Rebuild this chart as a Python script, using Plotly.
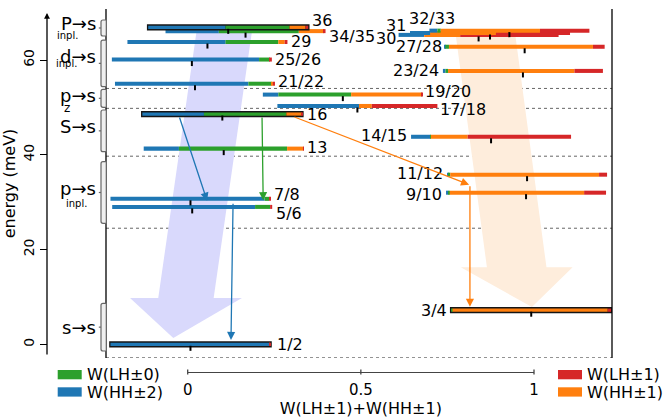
import plotly.graph_objects as go

# ---------------- data ----------------
states = ["1/2", "3/4", "5/6", "7/8", "9/10", "11/12", "13", "14/15", "16",
          "17/18", "19/20", "21/22", "23/24", "25/26", "27/28", "29", "30",
          "31", "32/33", "34/35", "36"]
energy = [0.0, 7.2, 29.0, 30.7, 32.0, 35.8, 41.3, 43.8, 48.6,
          50.3, 52.7, 55.0, 57.7, 60.1, 62.8, 63.8, 65.3,
          65.7, 66.2, 66.1, 66.9]
w_hh2 = [0.992, 0.000, 0.893, 0.963, 0.015, 0.006, 0.220, 0.122, 0.385,
         0.510, 0.097, 0.834, 0.016, 0.920, 0.004, 0.613, 0.160,
         0.127, 0.050, 0.333, 0.483]
w_lh0 = [0.000, 0.008, 0.094, 0.029, 0.008, 0.014, 0.676, 0.002, 0.515,
         0.000, 0.455, 0.145, 0.016, 0.068, 0.023, 0.330, 0.000,
         0.000, 0.021, 0.500, 0.400]
w_hh1 = [0.005, 0.970, 0.000, 0.000, 0.840, 0.930, 0.100, 0.230, 0.097,
         0.080, 0.442, 0.008, 0.790, 0.000, 0.900, 0.040, 0.225,
         0.410, 0.620, 0.157, 0.100]
w_lh1 = [0.003, 0.022, 0.013, 0.008, 0.137, 0.050, 0.004, 0.646, 0.003,
         0.410, 0.006, 0.013, 0.178, 0.012, 0.073, 0.017, 0.615,
         0.463, 0.309, 0.010, 0.017]
bright_states = ["1/2", "3/4", "16", "36"]

# transition classes: label, subscript, energy window (meV)
group_main = ["s→s", "p→s", "S→s", "p→s", "d→s", "P→s"]
group_sub = ["", "inpl.", "", "z", "inpl.", "inpl."]
group_lo = [-1.41, 25.54, 40.65, 50.02, 54.37, 65.07]
group_hi = [8.65, 38.54, 49.45, 53.82, 64.22, 68.45]
separators = [-2.85, 24.5, 39.7, 49.8, 54.0]

# relaxation paths: W at tail, E at tail, W at head, E at head, component
paths_w0 = [-0.025, 0.2146, 0.131, 0.304, 0.815]
paths_e0 = [48.2, 48.2, 30.0, 48.1, 33.7]
paths_w1 = [0.056, 0.218, 0.125, 0.8126, 0.815]
paths_e1 = [30.3, 30.4, 0.9, 33.7, 7.9]
paths_comp = ["HH2", "LH0", "HH2", "HH1", "HH1"]

# broad schematic flows: tail centre, head-base centre, tip (W, E)
flow_tail_w = [0.106, 0.860]
flow_tail_e = [66.3, 65.3]
flow_base_w = [-0.005, 0.950]
flow_base_e = [9.77, 16.25]
flow_tip_w = [-0.0416, 0.994]
flow_tip_e = [1.33, 7.87]
flow_shaft = [0.160, 0.172]
flow_head = [0.323, 0.323]

# ---------------- styling ----------------
FIG_W, FIG_H = 663, 420
FONT = "DejaVu Sans"
COL = {"HH2": "#1f77b4", "LH0": "#2ca02c", "HH1": "#ff7f0e", "LH1": "#d62728"}
FLOW_FILL = ["rgb(217,217,252)", "rgb(254,237,220)"]

W0_PX, W_SCALE = 187.7, 346.3          # pixel of W=0, pixels per unit W
PLOT_L, PLOT_R, PLOT_T, PLOT_B = 106, 612, 9, 358
E0_PX, E_SCALE = 344.3, 4.738           # pixel of E=0, pixels per meV
BAR_LEN = 160 / W_SCALE
BAR_T = 0.85
BRIGHT_OUT, BRIGHT_IN = 1.32, 0.68
PAD = 1.3 / W_SCALE
TICK_DROP = 4.0 / E_SCALE               # centre marker sits 4 px below the bar centre


def fx(px):
    return px / FIG_W


def fy(py):
    return 1 - py / FIG_H


x_range = [(PLOT_L - W0_PX) / W_SCALE, (PLOT_R - W0_PX) / W_SCALE]
y_range = [(E0_PX - PLOT_B) / E_SCALE, (E0_PX - PLOT_T) / E_SCALE]

# label placement: side of the bar, pixel shifts (dx, dy)
label_style = {
    "1/2": ("r", 5, 0), "3/4": ("l", -2, 0), "5/6": ("r", 2, -6.3),
    "7/8": ("r", 2, 4.4), "9/10": ("l", -2, -2.3), "11/12": ("l", -2, 1),
    "13": ("r", 1, 1), "14/15": ("l", -2, 1.4), "16": ("r", 3, 0),
    "17/18": ("r", 1, -3.5), "19/20": ("r", 0, 3), "21/22": ("r", 1, 2.7),
    "23/24": ("l", -2, 0.7), "25/26": ("r", 1, 0), "27/28": ("l", -1, 0.7),
    "29": ("r", 2, 1), "30": ("l", -1, -3.3), "31": ("l", -2, 8),
    "32/33": ("l", 28, 12.4), "34/35": ("r", 1, -5), "36": ("r", 2, 7),
}
group_dy = [0, 3.7, 3.9, 2.8, 6.5, 4.2]
group_sub_dy = [0, -11, 0, -9.5, -0.5, -7.5]
group_sub_x = [0, 76, 0, 66.7, 66.5, 67]

fig = go.Figure()

shapes = []
annotations = []

# broad flows (drawn underneath everything)
for i in range(len(flow_tail_w)):
    sw, hw = flow_shaft[i] / 2, flow_head[i] / 2
    tw, te = flow_tail_w[i], flow_tail_e[i]
    bw, be = flow_base_w[i], flow_base_e[i]
    pts = [(tw - sw, te), (bw - sw, be), (bw - hw, be), (flow_tip_w[i], flow_tip_e[i]),
           (bw + hw, be), (bw + sw, be), (tw + sw, te)]
    path = "M " + " L ".join(f"{a:.5f},{b:.4f}" for a, b in pts) + " Z"
    shapes.append(dict(type="path", path=path, xref="x", yref="y",
                       fillcolor=FLOW_FILL[i], line=dict(width=0), layer="below"))

# separators between classes
for e in separators:
    shapes.append(dict(type="line", xref="x domain", yref="y", x0=0, x1=1, y0=e, y1=e,
                       line=dict(color="#666", width=1, dash="dot"), layer="below"))

# left / right frame lines
for xd in (0, 1):
    shapes.append(dict(type="line", xref="x domain", yref="y domain", x0=xd, x1=xd,
                       y0=0, y1=1, line=dict(color="black", width=1.3)))

# centre markers: W(LH±1)+W(HH±1), drawn before the bars so only the part
# hanging below each bar shows
centers = [w_hh1[i] + w_lh1[i] for i in range(len(states))]
fig.add_trace(go.Scatter(x=centers, y=[e - TICK_DROP for e in energy], mode="markers",
                         marker=dict(symbol="line-ns", size=3.6,
                                     line=dict(width=2, color="black")),
                         showlegend=False, hoverinfo="skip"))

# state bars
for i, s in enumerate(states):
    parts = [w_hh2[i], w_lh0[i], w_hh1[i], w_lh1[i]]
    c = centers[i]
    start = c - BAR_LEN / 2
    bright = s in bright_states
    if bright:
        fig.add_trace(go.Bar(orientation="h", y=[energy[i]], x=[BAR_LEN + 2 * PAD],
                             base=[start - PAD], width=BRIGHT_OUT,
                             marker=dict(color="#151515", line=dict(width=0)),
                             showlegend=False, hoverinfo="skip"))
    bases, lengths = [], []
    acc = start
    for p in parts:
        bases.append(acc)
        lengths.append(p * BAR_LEN)
        acc += p * BAR_LEN
    fig.add_trace(go.Bar(orientation="h", y=[energy[i]] * 4, x=lengths, base=bases,
                         width=BRIGHT_IN if bright else BAR_T,
                         marker=dict(color=[COL["HH2"], COL["LH0"], COL["HH1"], COL["LH1"]],
                                     line=dict(width=0)),
                         name=s, showlegend=False, hoverinfo="skip"))
    side, dxs, dys = label_style[s]
    annotations.append(dict(
        x=start + BAR_LEN if side == "r" else start, y=energy[i], xref="x", yref="y",
        text=s, showarrow=False, xanchor="left" if side == "r" else "right",
        yanchor="middle", xshift=dxs, yshift=dys,
        font=dict(family=FONT, size=16, color="black")))

# bottom scale axis carrier
fig.add_trace(go.Scatter(x=[0, 1], y=[None, None], xaxis="x2", yaxis="y",
                         mode="markers", showlegend=False, hoverinfo="skip"))

# relaxation arrows
for i in range(len(paths_w0)):
    annotations.append(dict(
        x=paths_w1[i], y=paths_e1[i], ax=paths_w0[i], ay=paths_e0[i],
        xref="x", yref="y", axref="x", ayref="y", text="", showarrow=True,
        arrowhead=2, arrowsize=1.25, arrowwidth=1.3, arrowcolor=COL[paths_comp[i]],
        standoff=0, startstandoff=0))

# class brackets and labels
rx, ry = 2.0 / FIG_W, 2.0 / E_SCALE
xl, xr = fx(101), fx(106.3)
for i in range(len(group_main)):
    lo, hi = group_lo[i], group_hi[i]
    path = (f"M {xr},{hi} L {xl + rx},{hi} Q {xl},{hi} {xl},{hi - ry} "
            f"L {xl},{lo + ry} Q {xl},{lo} {xl + rx},{lo} L {xr},{lo} Z")
    shapes.append(dict(type="path", path=path, xref="paper", yref="y",
                       fillcolor="#efefef", line=dict(color="#666", width=1.2)))
    mid = 0.5 * (lo + hi)
    shapes.append(dict(type="line", xref="paper", yref="y", x0=fx(98.8), x1=xl,
                       y0=mid, y1=mid, line=dict(color="#666", width=1.2)))
    annotations.append(dict(x=fx(97.5), y=mid, xref="paper", yref="y", text=group_main[i],
                            showarrow=False, xanchor="right", yanchor="middle",
                            yshift=group_dy[i],
                            font=dict(family=FONT, size=18, color="black")))
    if group_sub[i]:
        annotations.append(dict(x=fx(group_sub_x[i]), y=mid, xref="paper", yref="y",
                                text=group_sub[i], showarrow=False, xanchor="center",
                                yanchor="middle", yshift=group_sub_dy[i],
                                font=dict(family=FONT, size=10 if group_sub[i] != "z" else 12,
                                          color="black")))

# energy axis arrow
annotations.append(dict(x=fx(47), y=fy(13), xref="paper", yref="paper",
                        ax=0, ay=343, axref="pixel", ayref="pixel", text="",
                        showarrow=True, arrowhead=2, arrowsize=0.9, arrowwidth=1.3,
                        arrowcolor="black", standoff=0, startstandoff=0))

# caps on the bottom scale
for v in (0, 0.5, 1):
    xp = fx(W0_PX + v * W_SCALE)
    shapes.append(dict(type="line", xref="paper", yref="paper", x0=xp, x1=xp,
                       y0=fy(369.5), y1=fy(374.5), line=dict(color="#444", width=1.3)))

# legend
legend_items = [("W(LH±0)", COL["LH0"], 57.7, 370), ("W(HH±2)", COL["HH2"], 57.7, 387.3),
                ("W(LH±1)", COL["LH1"], 558, 370), ("W(HH±1)", COL["HH1"], 558, 387.3)]
for text, col, x0, y0 in legend_items:
    shapes.append(dict(type="rect", xref="paper", yref="paper", x0=fx(x0), x1=fx(x0 + 24),
                       y0=fy(y0), y1=fy(y0 + 9.3), fillcolor=col, line=dict(width=0)))
    annotations.append(dict(x=fx(x0 + 27), y=fy(y0 + 4.7), xref="paper", yref="paper",
                            text=text, showarrow=False, xanchor="left", yanchor="middle",
                            font=dict(family=FONT, size=16, color="black")))

fig.update_layout(
    width=FIG_W, height=FIG_H, template="none",
    margin=dict(l=0, r=0, t=0, b=0, pad=0),
    paper_bgcolor="white", plot_bgcolor="rgba(0,0,0,0)",
    font=dict(family=FONT, size=14, color="black"),
    barmode="overlay", showlegend=False, hovermode=False,
    xaxis=dict(domain=[fx(PLOT_L), fx(PLOT_R)], range=x_range, visible=False,
               anchor="y", fixedrange=True),
    xaxis2=dict(domain=[fx(W0_PX), fx(W0_PX + W_SCALE)], range=[0, 1], anchor="free",
                position=fy(372), showline=True, linecolor="#444", linewidth=1.3,
                ticks="", tickvals=[0, 0.5, 1], ticktext=["0", "0.5", "1"],
                tickfont=dict(family=FONT, size=15, color="black"),
                ticklabelstandoff=4, showgrid=False, zeroline=False, automargin=False,
                title=dict(text="W(LH±1)+W(HH±1)", standoff=4,
                           font=dict(family=FONT, size=16, color="black"))),
    yaxis=dict(domain=[fy(PLOT_B), fy(PLOT_T)], range=y_range, anchor="free",
               position=fx(47), side="left", showline=False, showgrid=False,
               zeroline=False, ticks="outside", ticklen=7, tickwidth=1.3,
               tickcolor="black", tickvals=[0, 20, 40, 60], tickangle=-90,
               tickfont=dict(family=FONT, size=14, color="black"), automargin=False,
               title=dict(text="energy (meV)", standoff=0,
                          font=dict(family=FONT, size=16, color="black"))),
    shapes=shapes, annotations=annotations,
)

fig.write_html("out.html")
